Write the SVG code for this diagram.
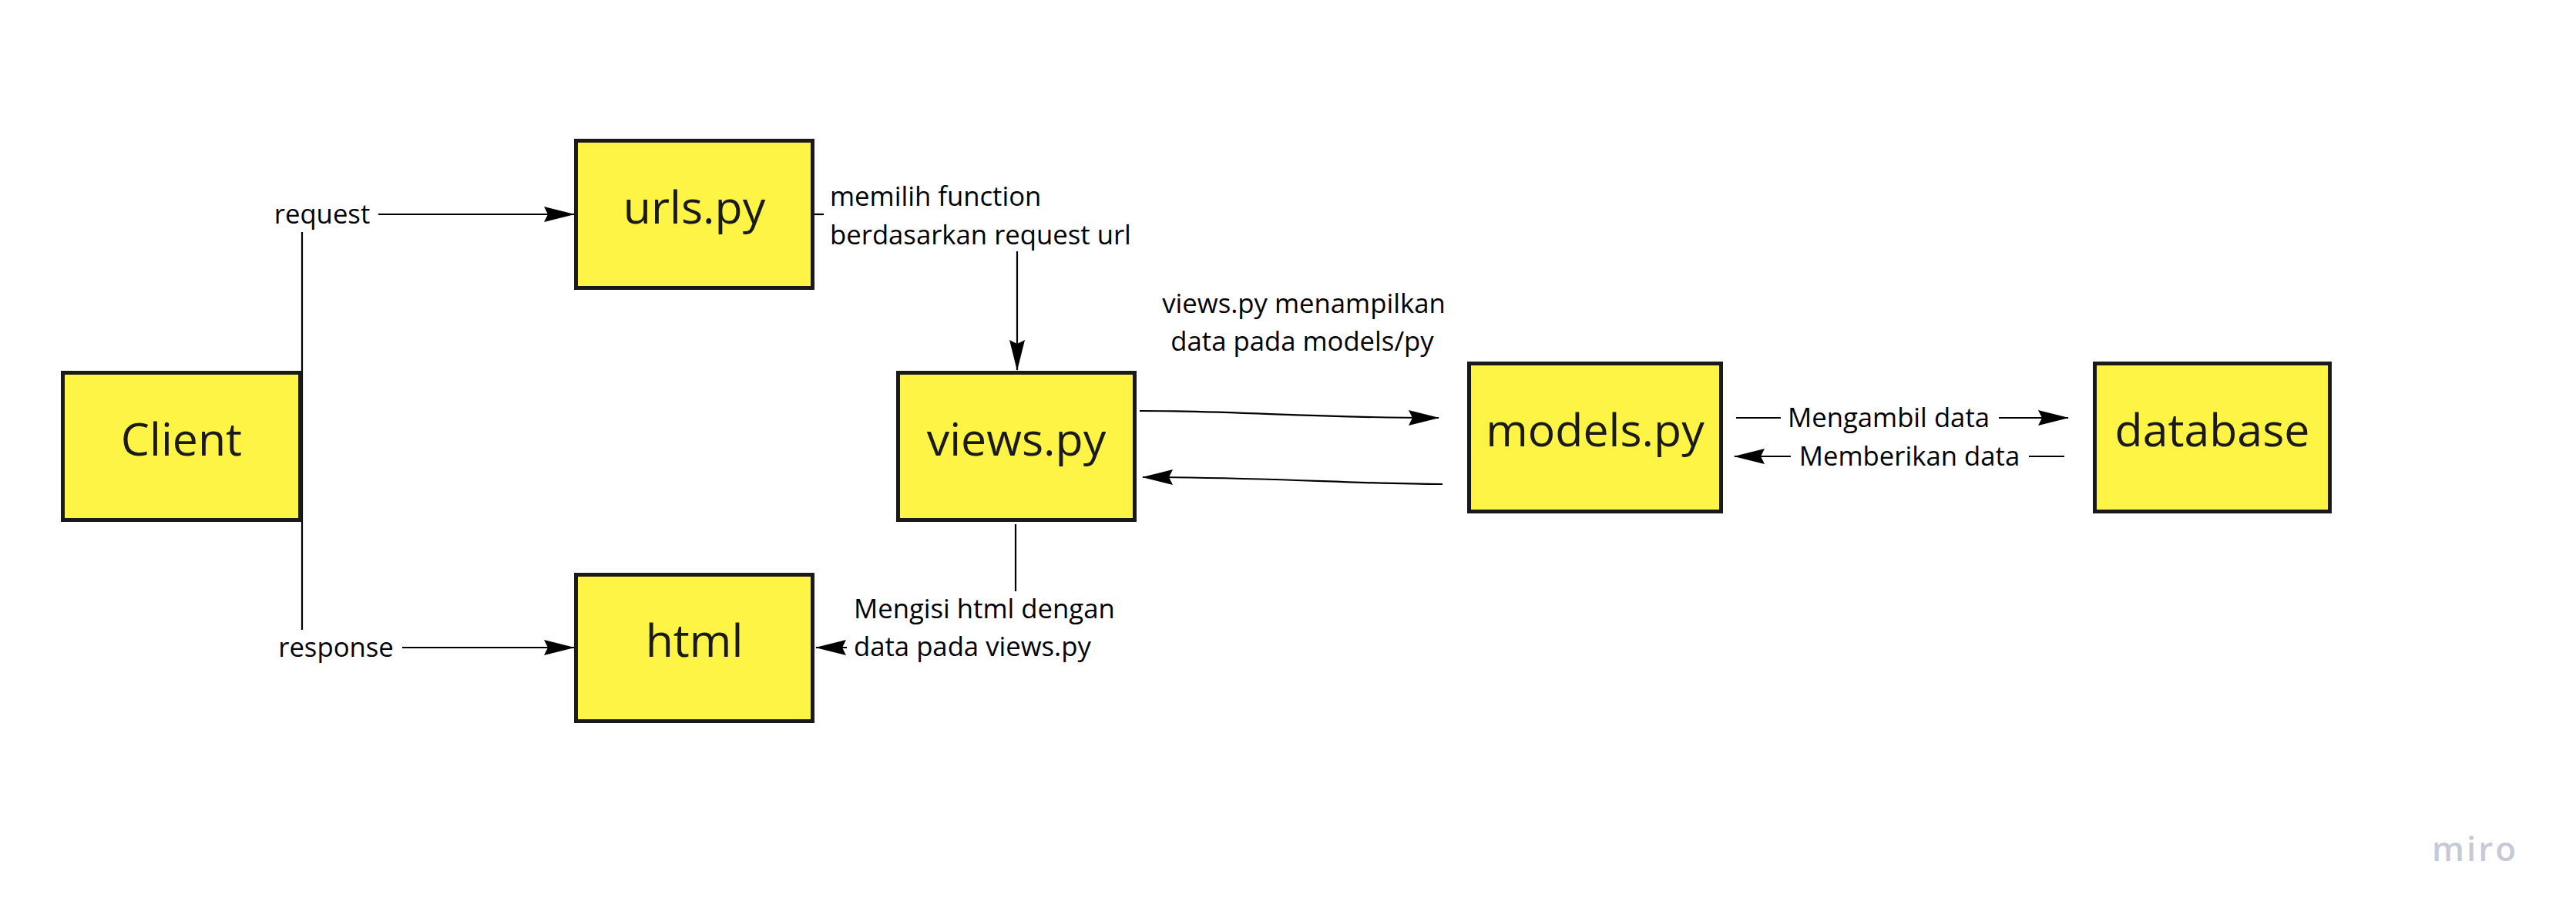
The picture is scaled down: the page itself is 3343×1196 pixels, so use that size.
<svg xmlns="http://www.w3.org/2000/svg" width="3343" height="1196" viewBox="0 0 3343 1196">
<style>
.box{fill:#fef445;stroke:#1a1a1a;stroke-width:5}
.nt{font-family:"Open Sans","Liberation Sans",sans-serif;font-size:59px;fill:#1a1a1a;text-anchor:middle}
.lb{font-family:"Open Sans","Liberation Sans",sans-serif;font-size:34.7px;fill:#000}
.ln{fill:none;stroke:#000;stroke-width:2.2}
.arr{fill:none;stroke:#000;stroke-width:2.2;marker-end:url(#ah)}
</style>
<defs>
<marker id="ah" viewBox="0 0 40 20" refX="39" refY="10" markerWidth="40" markerHeight="20" orient="auto" markerUnits="userSpaceOnUse">
<path d="M0,0 L40,10 L0,20 L5,10 Z" fill="#000"/>
</marker>
</defs>
<rect width="3343" height="1196" fill="#fff"/>
<g id="connectors">
<path class="ln" d="M392,579 V301"/>
<path class="arr" d="M491,278 H745"/>
<path class="ln" d="M392,579 V817"/>
<path class="arr" d="M522,840 H745"/>
<path class="ln" d="M1057,278 H1069"/>
<path class="arr" d="M1320,326 V480"/>
<path class="arr" d="M1479,533 C1610,533 1700,542 1867,542"/>
<path class="arr" d="M1872,628 C1760,628 1650,619 1483,619"/>
<path class="ln" d="M1318,680 V767"/>
<path class="arr" d="M1099,840 H1059"/>
<path class="ln" d="M2253,542 H2311"/>
<path class="arr" d="M2594,542 H2684"/>
<path class="ln" d="M2679,592 H2633"/>
<path class="arr" d="M2324,592 H2251"/>
<text class="lb" x="418" y="290" text-anchor="middle">request</text>
<text class="lb" x="436" y="852" text-anchor="middle">response</text>
<text class="lb" x="1077" y="267">memilih function</text>
<text class="lb" x="1077" y="317">berdasarkan request url</text>
<text class="lb" x="1692" y="406" text-anchor="middle">views.py menampilkan</text>
<text class="lb" x="1690" y="455" text-anchor="middle">data pada models/py</text>
<text class="lb" x="1108" y="802">Mengisi html dengan</text>
<text class="lb" x="1108" y="851">data pada views.py</text>
<text class="lb" x="2451" y="554" text-anchor="middle">Mengambil data</text>
<text class="lb" x="2478" y="604" text-anchor="middle">Memberikan data</text>
</g>
<g id="client">
<rect class="box" x="81.5" y="483.5" width="308" height="191"/>
<text class="nt" x="235.5" y="591">Client</text>
</g>
<g id="urls">
<rect class="box" x="747.5" y="182.5" width="307" height="191"/>
<text class="nt" x="901" y="290">urls.py</text>
</g>
<g id="html">
<rect class="box" x="747.5" y="745.5" width="307" height="190"/>
<text class="nt" x="901" y="852">html</text>
</g>
<g id="views">
<rect class="box" x="1165.5" y="483.5" width="307" height="191"/>
<text class="nt" x="1319" y="591">views.py</text>
</g>
<g id="models">
<rect class="box" x="1906.5" y="471.5" width="327" height="192"/>
<text class="nt" x="2070" y="579">models.py</text>
</g>
<g id="database">
<rect class="box" x="2718.5" y="471.5" width="305" height="192"/>
<text class="nt" x="2871" y="579">database</text>
</g>
<text x="3212" y="1117" text-anchor="middle" font-family="'Open Sans','Liberation Sans',sans-serif" font-size="44" font-weight="600" letter-spacing="3" fill="#c8c9d7">miro</text>
</svg>
